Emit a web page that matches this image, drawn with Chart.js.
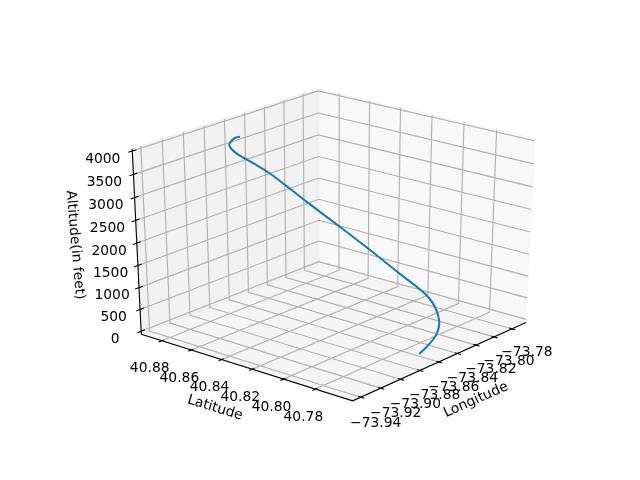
<!DOCTYPE html>
<html>
<head>
<meta charset="utf-8">
<style>
html, body { margin: 0; padding: 0; background: #fff; }
#wrap { width: 640px; height: 480px; }
</style>
<script src="https://cdn.jsdelivr.net/npm/chart.js@4"></script>
</head>
<body>
<div id="wrap"><canvas id="grafico" width="640" height="480"></canvas></div>
<script>
const lonTicks = [-73.94, -73.92, -73.90, -73.88, -73.86, -73.84, -73.82, -73.80, -73.78];
const latTicks = [40.88, 40.86, 40.84, 40.82, 40.80, 40.78];
const altTicks = [0, 500, 1000, 1500, 2000, 2500, 3000, 3500, 4000];

const lonData = [-73.8762, -73.8766, -73.8807, -73.8830, -73.8830, -73.8812, -73.8786, -73.8750, -73.8684, -73.8651, -73.8602, -73.8548, -73.8466, -73.8398, -73.8346, -73.8316, -73.8312, -73.8347, -73.8424, -73.8500, -73.8580, -73.8664];
const latData = [40.8730, 40.8761, 40.8761, 40.8756, 40.8740, 40.8720, 40.8691, 40.8655, 40.8591, 40.8526, 40.8386, 40.8229, 40.8088, 40.7938, 40.7842, 40.7802, 40.7760, 40.7717, 40.7683, 40.7665, 40.7657, 40.7653];
const altData = [3950, 3900, 3850, 3800, 3720, 3630, 3540, 3430, 3210, 3020, 2650, 2250, 1800, 1350, 1050, 870, 660, 440, 320, 240, 160, 80];

const lonBox = [-73.948, -73.764];
const latBox = [40.757, 40.894];
const altBox = [-72, 4047];

const elev = 26, azim = -140, dist = 10, ampliar = 25 / 24;
const rad = Math.PI / 180;
const n = [Math.cos(elev * rad) * Math.cos(azim * rad), Math.cos(elev * rad) * Math.sin(azim * rad), Math.sin(elev * rad)];
const u = [-Math.sin(azim * rad), Math.cos(azim * rad), 0];
const v = [n[1] * u[2] - n[2] * u[1], n[2] * u[0] - n[0] * u[2], n[0] * u[1] - n[1] * u[0]];

// misma proyeccion perspectiva que mplot3d
function proj(lon, lat, alt) {
    const d = [
        ((lon - lonBox[0]) / (lonBox[1] - lonBox[0]) - 0.5) * ampliar,
        ((lat - latBox[0]) / (latBox[1] - latBox[0]) - 0.5) * ampliar,
        ((alt - altBox[0]) / (altBox[1] - altBox[0]) - 0.5) * ampliar
    ];
    const w = dist - (n[0] * d[0] + n[1] * d[1] + n[2] * d[2]);
    return {
        x: (u[0] * d[0] + u[1] * d[1] + u[2] * d[2]) / w,
        y: (v[0] * d[0] + v[1] * d[1] + v[2] * d[2]) / w
    };
}

function linea(puntos, color, ancho) {
    return { data: puntos, showLine: true, borderColor: color, borderWidth: ancho, pointRadius: 0, fill: false, tension: 0 };
}
function pane(puntos, color) {
    return { data: puntos, showLine: true, borderColor: color, borderWidth: 1, backgroundColor: color, pointRadius: 0, fill: 'shape', tension: 0 };
}

const [x0, x1] = lonBox, [y0, y1] = latBox, [z0, z1] = altBox;
const datasets = [
    pane([proj(x1, y0, z0), proj(x1, y1, z0), proj(x1, y1, z1), proj(x1, y0, z1), proj(x1, y0, z0)], 'rgba(242,242,242,0.5)'),
    pane([proj(x0, y1, z0), proj(x1, y1, z0), proj(x1, y1, z1), proj(x0, y1, z1), proj(x0, y1, z0)], 'rgba(230,230,230,0.5)'),
    pane([proj(x0, y0, z0), proj(x1, y0, z0), proj(x1, y1, z0), proj(x0, y1, z0), proj(x0, y0, z0)], 'rgba(236,236,236,0.5)')
];
const gris = '#b0b0b0', finoEje = 1.11;
lonTicks.forEach(t => datasets.push(linea([proj(t, y0, z0), proj(t, y1, z0), proj(t, y1, z1)], gris, finoEje)));
latTicks.forEach(t => datasets.push(linea([proj(x0, t, z0), proj(x1, t, z0), proj(x1, t, z1)], gris, finoEje)));
altTicks.forEach(t => datasets.push(linea([proj(x0, y1, t), proj(x1, y1, t), proj(x1, y0, t)], gris, finoEje)));

// ejes
datasets.push(linea([proj(x0, y1, z0), proj(x0, y0, z0), proj(x1, y0, z0)], '#000', finoEje));
datasets.push(linea([proj(x0, y1, z0), proj(x0, y1, z1)], '#000', finoEje));
lonTicks.forEach(t => datasets.push(linea([proj(t, y0 + 0.0015, z0), proj(t, y0 - 0.0022, z0)], '#000', finoEje)));
latTicks.forEach(t => datasets.push(linea([proj(x0 + 0.002, t, z0), proj(x0 - 0.003, t, z0)], '#000', finoEje)));
altTicks.forEach(t => datasets.push(linea([proj(x0 + 0.0037, y1, t), proj(x0 - 0.0037, y1, t)], '#000', finoEje)));

const ruta = linea(altData.map((a, i) => proj(lonData[i], latData[i], a)), '#1f77b4', 2.08);
ruta.tension = 0.4;
datasets.push(ruta);

const etiquetas = {
    id: 'etiquetas',
    afterDraw(chart) {
        const ctx = chart.ctx, sx = chart.scales.x, sy = chart.scales.y;
        const px = p => [sx.getPixelForValue(p.x), sy.getPixelForValue(p.y)];
        ctx.save();
        ctx.fillStyle = '#000';
        ctx.font = '13.89px "DejaVu Sans"';
        ctx.textBaseline = 'middle';
        ctx.textAlign = 'center';
        lonTicks.forEach((t, i) => {
            const [a, b] = px(proj(t, y0, z0));
            ctx.fillText('\u2212' + Math.abs(t).toFixed(2), a + 15, b + 26 - 0.25 * i);
        });
        latTicks.forEach(t => {
            const [a, b] = px(proj(x0, t, z0));
            ctx.fillText(t.toFixed(2), a - 12, b + 28);
        });
        altTicks.forEach(t => {
            const [a, b] = px(proj(x0, y1, t));
            ctx.fillText(String(t), a - 29.5 + 3.5 * (1 - t / 4000), b + 8);
        });
        const texto = (s, a, b, ang) => {
            ctx.save();
            ctx.translate(a, b);
            ctx.rotate(ang * rad);
            ctx.fillText(s, 0, 0);
            ctx.restore();
        };
        texto('Latitude', 215, 408, 17);
        texto('Longitude', 476, 400, -24);
        texto('Altitude(in feet)', 75, 245, 85);
        ctx.restore();
    }
};

// Chart.js pinta el primer dataset encima: se invierte para dejar los paneles al fondo
datasets.reverse();

new Chart(document.getElementById('grafico').getContext('2d'), {
    type: 'scatter',
    data: { datasets },
    options: {
        responsive: false,
        animation: false,
        layout: { padding: { left: 80, right: 64, top: 60.6, bottom: 54.6 } },
        plugins: { legend: { display: false }, tooltip: { enabled: false } },
        datasets: { scatter: { clip: false } },
        scales: {
            x: { type: 'linear', display: false, min: -0.095, max: 0.09 },
            y: { type: 'linear', display: false, min: -0.095, max: 0.09 }
        }
    },
    plugins: [etiquetas]
});
</script>
</body>
</html>
